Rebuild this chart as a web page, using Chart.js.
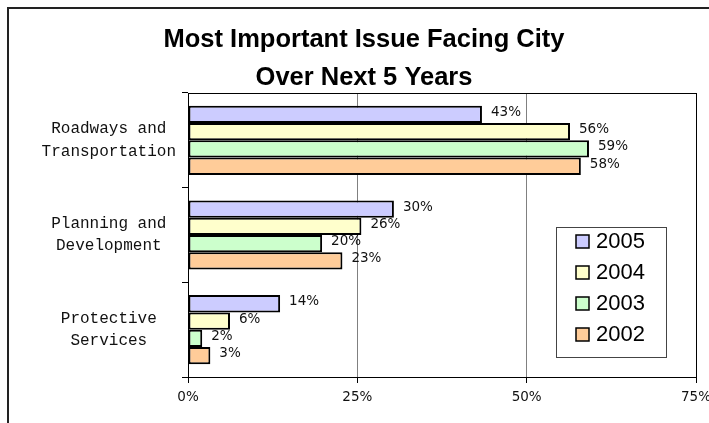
<!DOCTYPE html>
<html>
<head>
<meta charset="utf-8">
<script src="https://cdn.jsdelivr.net/npm/chart.js@4.4.0/dist/chart.umd.min.js"></script>
<style>
  html, body { margin: 0; padding: 0; background: #fff; overflow: hidden; }
  #wrap { width: 709px; height: 423px; }
</style>
</head>
<body>
<div id="wrap"><canvas id="myChart" width="709" height="423"></canvas></div>
<script>
const titleLines = ['Most Important Issue Facing City', 'Over Next 5 Years'];
const categories = [['Roadways and', 'Transportation'], ['Planning and', 'Development'], ['Protective', 'Services']];
const years = ['2005', '2004', '2003', '2002'];
const values2005 = [43.4, 30.4, 13.6];
const values2004 = [56.4, 25.6, 6.2];
const values2003 = [59.2, 19.8, 2.1];
const values2002 = [58.0, 22.8, 3.3];
const xTicks = [0, 25, 50, 75];

const colors = ['#CCCCFF', '#FFFFCC', '#CCFFCC', '#FFCC99'];
const seriesValues = [values2005, values2004, values2003, values2002];

// outer frame, title and plot border
const framePlugin = {
    id: 'frame',
    beforeDraw(chart) {
        const ctx = chart.ctx;
        ctx.save();
        ctx.fillStyle = '#fff';
        ctx.fillRect(0, 0, chart.width, chart.height);
        ctx.strokeStyle = '#222';
        ctx.lineWidth = 2;
        ctx.strokeRect(8, 8, 760, 460);
        ctx.fillStyle = '#000';
        ctx.font = 'bold 25.5px "Liberation Sans", Arial, sans-serif';
        ctx.textAlign = 'center';
        ctx.textBaseline = 'alphabetic';
        titleLines.forEach((line, i) => ctx.fillText(line, 364, 47 + i * 38));
        ctx.restore();
    },
    beforeDatasetsDraw(chart) {
        const { ctx, chartArea: a } = chart;
        ctx.save();
        ctx.strokeStyle = '#000';
        ctx.lineWidth = 1;
        ctx.strokeRect(a.left + 0.5, a.top + 0.5, a.right - a.left, a.bottom - a.top);
        ctx.restore();
    }
};

// value labels at bar ends
const barLabels = {
    id: 'barLabels',
    afterDatasetsDraw(chart) {
        const ctx = chart.ctx;
        ctx.save();
        ctx.font = '13.5px "DejaVu Sans", sans-serif';
        ctx.fillStyle = '#111';
        ctx.textAlign = 'left';
        ctx.textBaseline = 'middle';
        chart.data.datasets.forEach((ds, i) => {
            chart.getDatasetMeta(i).data.forEach((bar, j) => {
                ctx.fillText(Math.round(ds.data[j]) + '%', bar.x + 9, bar.y - 2);
            });
        });
        ctx.restore();
    }
};

// boxed legend inside the plot
const boxLegend = {
    id: 'boxLegend',
    afterDraw(chart) {
        const ctx = chart.ctx;
        ctx.save();
        ctx.fillStyle = '#fff';
        ctx.fillRect(556, 227, 110, 130);
        ctx.strokeStyle = '#444';
        ctx.lineWidth = 1;
        ctx.strokeRect(556.5, 227.5, 110, 130);
        ctx.font = '22px "Liberation Sans", Arial, sans-serif';
        ctx.textAlign = 'left';
        ctx.textBaseline = 'middle';
        chart.data.datasets.forEach((ds, i) => {
            const cy = 241 + i * 31;
            ctx.fillStyle = ds.backgroundColor;
            ctx.fillRect(576, cy - 6, 13, 13);
            ctx.strokeStyle = '#000';
            ctx.lineWidth = 1.5;
            ctx.strokeRect(576, cy - 6, 13, 13);
            ctx.fillStyle = '#000';
            ctx.fillText(ds.label, 596, cy + 1);
        });
        ctx.restore();
    }
};

const ctx = document.getElementById('myChart');

const myChart = new Chart(ctx, {
    type: 'bar',
    data: {
        labels: categories,
        datasets: years.map((y, i) => ({
            label: y,
            data: seriesValues[i],
            backgroundColor: colors[i],
            borderColor: '#000',
            borderWidth: 2,
            borderSkipped: false,
            categoryPercentage: 0.73,
            barPercentage: 1
        }))
    },
    options: {
        indexAxis: 'y',
        responsive: false,
        animation: false,
        events: [],
        layout: {
            padding: { top: 93, right: 13, bottom: 0, left: 0 }
        },
        scales: {
            x: {
                min: 0,
                max: 75,
                afterBuildTicks: (scale) => {
                    scale.ticks = xTicks.map(v => ({ value: v }));
                },
                afterFit: (scale) => {
                    scale.height = 46;
                    scale.paddingLeft = 0;
                    scale.paddingRight = 0;
                },
                ticks: {
                    callback: (v) => v + '%',
                    color: '#111',
                    padding: 6,
                    maxRotation: 0,
                    font: { family: '"DejaVu Sans", sans-serif', size: 13.5 }
                },
                grid: {
                    color: '#808080',
                    tickColor: '#000',
                    tickLength: 6
                },
                border: { color: '#000', width: 1 }
            },
            y: {
                afterFit: (scale) => {
                    scale.width = 188;
                },
                ticks: {
                    crossAlign: 'center',
                    color: '#111',
                    padding: 6,
                    font: { family: '"Liberation Mono", monospace', size: 16, lineHeight: 1.4 }
                },
                grid: {
                    drawOnChartArea: false,
                    tickColor: '#000',
                    tickLength: 6
                },
                border: { color: '#000', width: 1 }
            }
        },
        plugins: {
            legend: { display: false },
            title: { display: false },
            tooltip: { enabled: false }
        }
    },
    plugins: [framePlugin, barLabels, boxLegend]
});
</script>
</body>
</html>
